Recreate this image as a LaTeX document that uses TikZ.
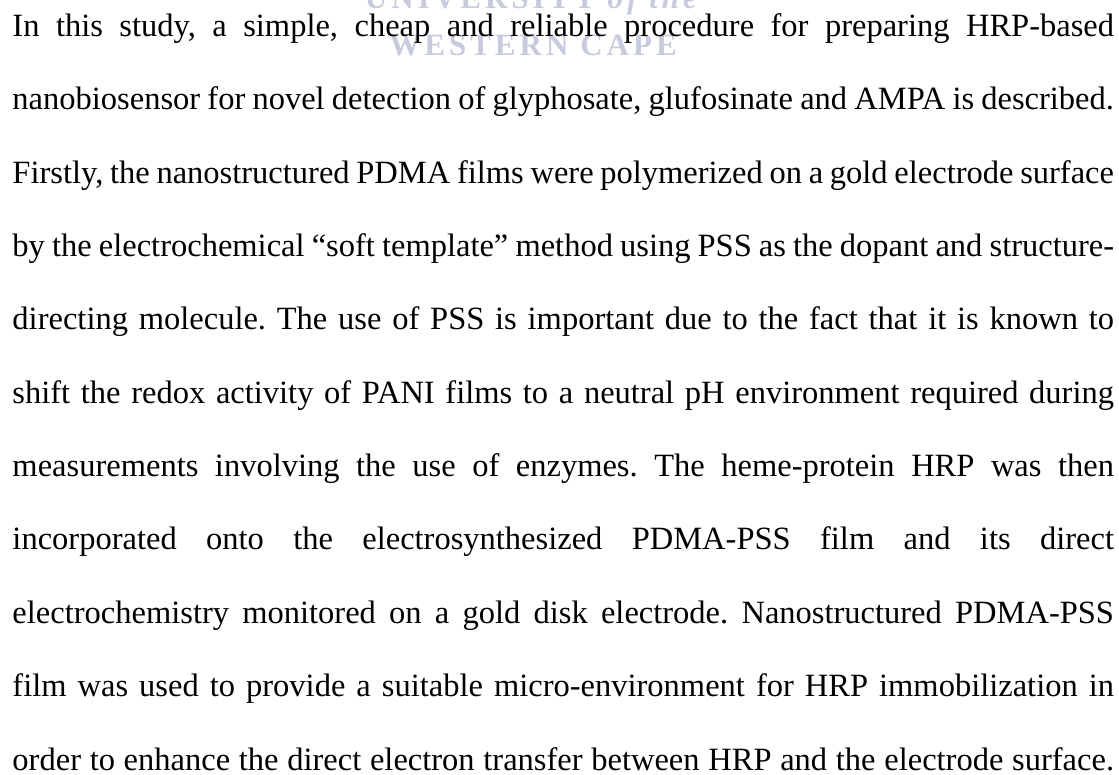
\documentclass[tikz,border=0pt]{standalone}
\usepackage{fontspec}
\setmainfont{Liberation Serif}
\definecolor{wmcol}{RGB}{200,203,221}
\newlength\linew
\setlength\linew{1101.5pt}
\newcommand\jline[1]{\makebox[\linew][s]{#1}}
\tikzset{
  ln/.style={anchor=base west, inner sep=0pt, outer sep=0pt, font=\fontsize{32.5}{32.5}\selectfont},
  wmark/.style={anchor=base, inner sep=0pt, outer sep=0pt, text=wmcol, font=\fontsize{31}{31}\selectfont\bfseries\addfontfeatures{LetterSpace=13}}
}
\frenchspacing
\begin{document}
\frenchspacing
\begin{tikzpicture}[x=1pt,y=1pt]
\fill[white] (0,0) rectangle (1119,-775);
\useasboundingbox (0,0) rectangle (1119,-775);
% watermark
\node[wmark] (wm1) at (533,-9) {UNIVERSITY \textit{of the}};
\node[wmark] (wm2) at (533,-56) {WESTERN CAPE};
% text lines
\node[ln] (l1) at (12.5,-36.5) {\jline{In this study, a simple, cheap and reliable procedure for preparing HRP-based}};
\node[ln] (l2) at (12.5,-109.85) {\jline{nanobiosensor for novel detection of glyphosate, glufosinate and AMPA is described.}};
\node[ln] (l3) at (12.5,-183.2) {\jline{Firstly, the nanostructured PDMA films were polymerized on a gold electrode surface}};
\node[ln] (l4) at (12.5,-256.55) {\jline{by the electrochemical “soft template” method using PSS as the dopant and structure-}};
\node[ln] (l5) at (12.5,-329.9) {\jline{directing molecule. The use of PSS is important due to the fact that it is known to}};
\node[ln] (l6) at (12.5,-403.25) {\jline{shift the redox activity of PANI films to a neutral pH environment required during}};
\node[ln] (l7) at (12.5,-476.6) {\jline{measurements involving the use of enzymes. The heme-protein HRP was then}};
\node[ln] (l8) at (12.5,-549.95) {\jline{incorporated onto the electrosynthesized PDMA-PSS film and its direct}};
\node[ln] (l9) at (12.5,-623.3) {\jline{electrochemistry monitored on a gold disk electrode. Nanostructured PDMA-PSS}};
\node[ln] (l10) at (12.5,-696.65) {\jline{film was used to provide a suitable micro-environment for HRP immobilization in}};
\node[ln] (l11) at (12.5,-770) {\jline{order to enhance the direct electron transfer between HRP and the electrode surface.}};
\end{tikzpicture}
\end{document}
